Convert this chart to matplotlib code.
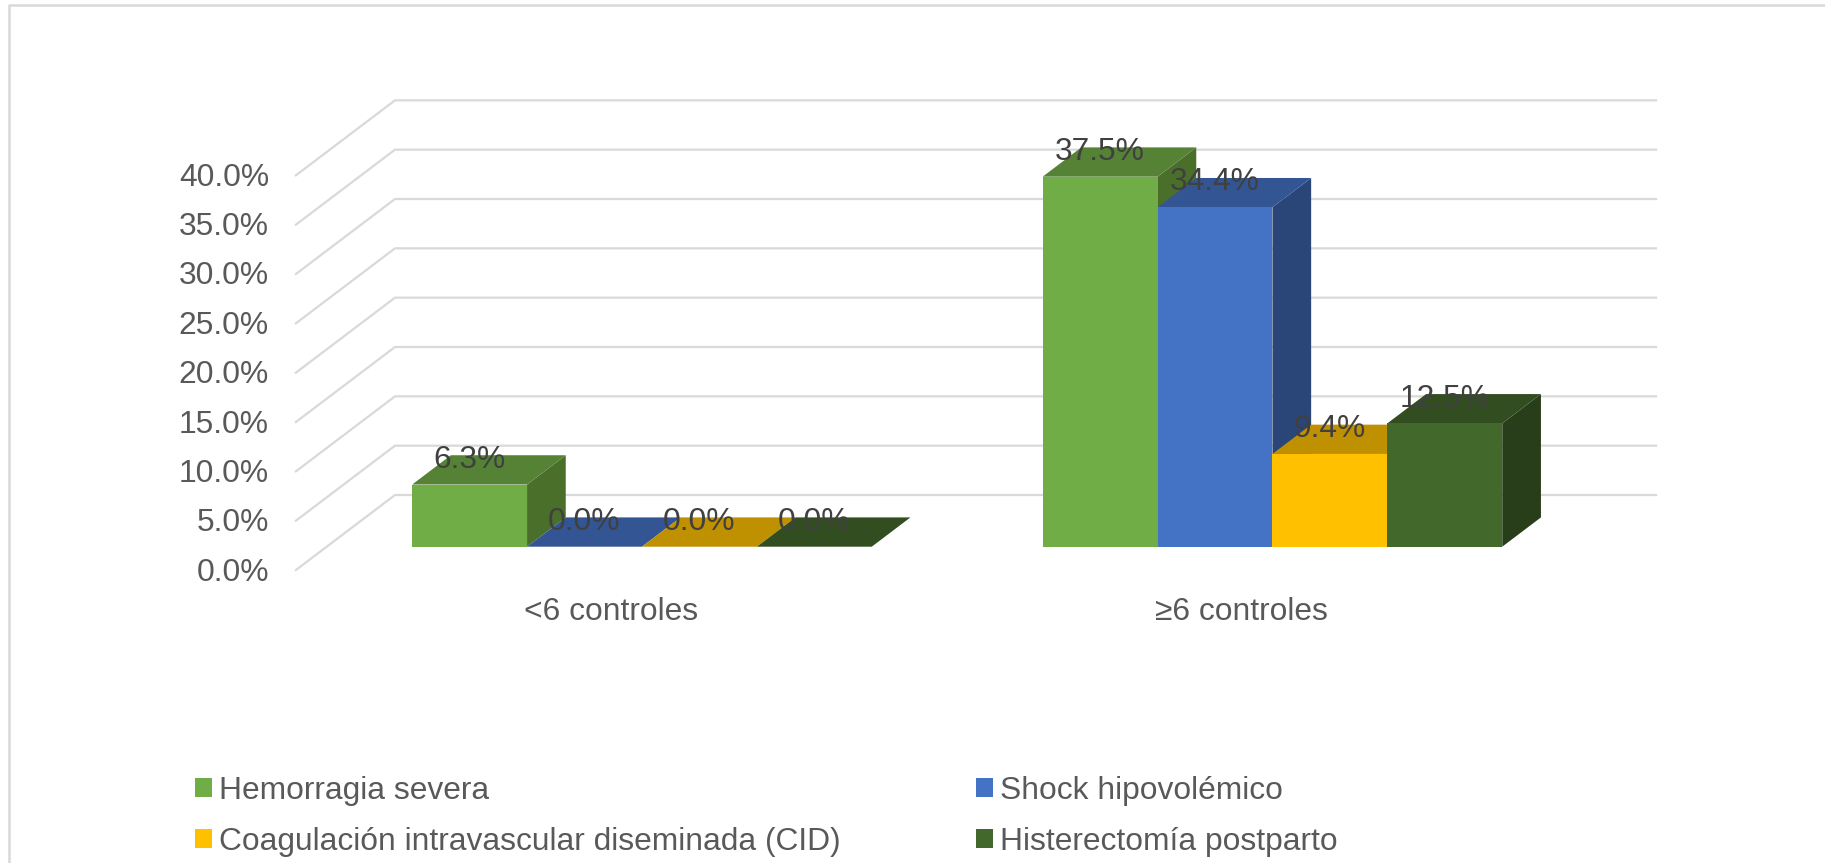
import matplotlib
matplotlib.use('Agg')
import matplotlib.pyplot as plt
from matplotlib.patches import Patch

plt.rcParams['font.family'] = ['Liberation Sans', 'DejaVu Sans']

categories = ['<6 controles', '≥6 controles']
series_names = ['Hemorragia severa', 'Shock hipovolémico',
                'Coagulación intravascular diseminada (CID)', 'Histerectomía postparto']
hemorragia = [6.3, 37.5]
shock = [0.0, 34.4]
cid = [0.0, 9.4]
histerectomia = [0.0, 12.5]
y_ticks = [0, 5, 10, 15, 20, 25, 30, 35, 40]

# front, top, side colour of each series
front_colors = ['#70AD47', '#4472C4', '#FFC000', '#43682B']
top_colors = ['#568235', '#335593', '#BF9000', '#324E20']
side_colors = ['#4A6F2B', '#2A4679', '#A67D00', '#283E1A']

W, H = 1825, 863
BASE_Y = 546.7      # pixel row of the bars' front base
PX_PER_PCT = 9.867
PX_PER_CAT = 630.5
X_LEFT = 326.7      # pixel column where the front plane of the bars starts
DEPTH_X = 38.7 / PX_PER_CAT      # bar depth in data units
DEPTH_Y = 29.3 / PX_PER_PCT
WALL_FRONT = -0.795  # depth position of the axis edge, in bar depths
WALL_BACK = 1.764
BAR_W = 114.9 / PX_PER_CAT
FONT = 22.9

fig = plt.figure(figsize=(W / 100, H / 100), dpi=100, facecolor='white')
ax_h = 40 * PX_PER_PCT
ax = fig.add_axes([X_LEFT / W, 1 - BASE_Y / H, 2 * PX_PER_CAT / W, ax_h / H])
ax.set_xlim(-0.5, 1.5)
ax.set_ylim(0, 40)
ax.axis('off')


def proj(x, y, d):
    # slide a point back along the chart depth
    return x + d * DEPTH_X, y + d * DEPTH_Y


grid_color = '#D9D9D9'
text_color = '#595959'
for t in y_ticks:
    x0, y0 = proj(-0.5, t, WALL_FRONT)
    x1, y1 = proj(-0.5, t, WALL_BACK)
    x2, y2 = proj(1.5, t, WALL_BACK)
    ax.plot([x0, x1, x2], [y0, y1, y2], color=grid_color, lw=1.6, clip_on=False,
            solid_joinstyle='miter', zorder=1)
    ax.text(x0 - 27 / PX_PER_CAT, y0 + 0.1, f'{t:.1f}%', ha='right', va='center_baseline',
            fontsize=FONT, color=text_color, clip_on=False)

all_series = [hemorragia, shock, cid, histerectomia]
n = len(all_series)
zo = 2
for c in range(len(categories)):
    for s, vals in enumerate(all_series):
        left = c - n * BAR_W / 2 + s * BAR_W
        right = left + BAR_W
        v = vals[c]
        # side face, top face, then the front bar so neighbours overlap properly
        side = [proj(right, 0, 0), proj(right, 0, 1), proj(right, v, 1), proj(right, v, 0)]
        top = [proj(left, v, 0), proj(right, v, 0), proj(right, v, 1), proj(left, v, 1)]
        ax.fill(*zip(*side), color=side_colors[s], lw=0, clip_on=False, zorder=zo)
        ax.fill(*zip(*top), color=top_colors[s], lw=0, clip_on=False, zorder=zo + 1)
        ax.bar(left, v, width=BAR_W, align='edge', color=front_colors[s], lw=0,
               clip_on=False, zorder=zo + 2)
        zo += 3

for c in range(len(categories)):
    for s, vals in enumerate(all_series):
        cx = c - n * BAR_W / 2 + (s + 0.5) * BAR_W
        ax.text(cx, vals[c] + DEPTH_Y - 0.1, f'{vals[c]:.1f}%', ha='center', va='center_baseline',
                fontsize=FONT, color='#404040', zorder=100, clip_on=False)
    lx, _ = proj(c, 0, WALL_FRONT)
    ax.text(lx, -62 / PX_PER_PCT, categories[c], ha='center', va='center_baseline',
            fontsize=FONT, color=text_color, clip_on=False)

handles = [Patch(facecolor=col, lw=0) for col in front_colors]
# matplotlib fills legends by column, so reorder to read row by row
order = [0, 2, 1, 3]
fig.legend([handles[i] for i in order], [series_names[i] for i in order], ncol=2,
           loc='upper left', bbox_to_anchor=(195 / W, 1 - 776 / H), frameon=False,
           fontsize=FONT, labelcolor=text_color, handlelength=0.55, handleheight=0.55,
           handletextpad=0.2, columnspacing=4.25, labelspacing=0.65, borderpad=0, borderaxespad=0)

# chart frame, open on the right and at the bottom
fig.add_artist(plt.Line2D([8.5 / W, 8.5 / W, 1], [0, 1 - 5.5 / H, 1 - 5.5 / H],
                          transform=fig.transFigure, color=grid_color, lw=1.8))

plt.savefig('out.png', dpi=100)
plt.close()
